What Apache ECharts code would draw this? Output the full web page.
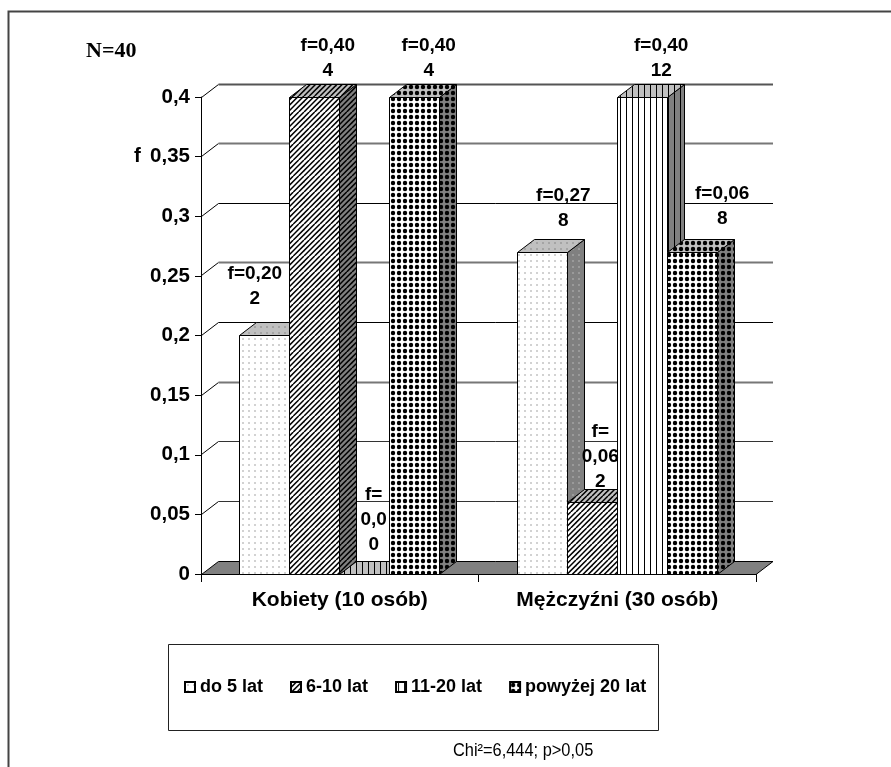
<!DOCTYPE html>
<html><head><meta charset="utf-8">
<style>html,body{margin:0;padding:0;background:#fff}#c{width:891px;height:767px}</style>
<script src="https://cdn.jsdelivr.net/npm/echarts@6/dist/echarts.min.js"></script>
</head><body><div id="c"></div>
<script>
// ---- data ----
var categories = ['Kobiety (10 osób)', 'Mężczyźni (30 osób)'];
var ageGroups = ['do 5 lat', '6-10 lat', '11-20 lat', 'powyżej 20 lat'];
var valuesDo5 = [0.20, 0.27];
var values6to10 = [0.40, 0.06];
var values11to20 = [0, 0.40];
var valuesOver20 = [0.40, 0.27];
var freqDo5 = ['f=0,20', 'f=0,27'];
var freq6to10 = ['f=0,40', 'f=\n0,06'];
var freq11to20 = ['f=\n0,0', 'f=0,40'];
var freqOver20 = ['f=0,40', 'f=0,06'];
var countsDo5 = [2, 8];
var counts6to10 = [4, 2];
var counts11to20 = [0, 12];
var countsOver20 = [4, 8];
var yTicks = [0, 0.05, 0.10, 0.15, 0.20, 0.25, 0.30, 0.35, 0.40];
var yTickLabels = ['0', '0,05', '0,1', '0,15', '0,2', '0,25', '0,3', '0,35', '0,4'];

// ---- layout and style ----
var allValues = [valuesDo5, values6to10, values11to20, valuesOver20];
var allFreq = [freqDo5, freq6to10, freq11to20, freqOver20];
var allCounts = [countsDo5, counts6to10, counts11to20, countsOver20];
var DX = 17, DY = 13, BAR_SHARE = 0.18;
var wallShades = ['#808080', '#333', '#333', '#777', '#000', '#777', '#000', '#777', '#555'];
var wallWidths = [1, 1, 1, 2, 1, 2, 1, 2, 2];
var labelNudge = [
  [[-10, -49], [21, -44]],
  [[13, -38.5], [8, -46]],
  [[9, -54], [19, -38.5]],
  [[14, -38.5], [30, -45.5]]
];

function tile(w, h, bg, draw) {
  var c = document.createElement('canvas');
  c.width = w; c.height = h;
  var g = c.getContext('2d');
  g.fillStyle = bg; g.fillRect(0, 0, w, h);
  draw(g);
  return { image: c, repeat: 'repeat' };
}
function fineDots(col) {
  return function (g) { g.fillStyle = col; g.fillRect(2, 2, 2, 2); };
}
function diag(g) {
  g.strokeStyle = '#000'; g.lineWidth = 1.5;
  for (var k = -16; k < 32; k += 16 / 3) {
    g.beginPath(); g.moveTo(k, 16); g.lineTo(k + 16, 0); g.stroke();
  }
}
function vlines(g) { g.fillStyle = '#000'; g.fillRect(2, 0, 1, 6); }
function bigDots(g) {
  g.fillStyle = '#000';
  g.beginPath(); g.arc(3, 3, 2.2, 0, Math.PI * 2); g.fill();
}
var fills = [
  { front: tile(6, 6, '#fff', fineDots('#d2d2d2')), top: tile(6, 6, '#c0c0c0', fineDots('#a4a4a4')), side: tile(6, 6, '#808080', fineDots('#9a9a9a')) },
  { front: tile(16, 16, '#fff', diag), top: tile(16, 16, '#c0c0c0', diag), side: tile(16, 16, '#808080', diag) },
  { front: tile(6, 6, '#fff', vlines), top: tile(6, 6, '#c0c0c0', vlines), side: tile(6, 6, '#808080', vlines) },
  { front: tile(6, 6, '#fff', bigDots), top: tile(6, 6, '#c0c0c0', bigDots), side: tile(6, 6, '#808080', bigDots) }
];

function snap(v) { return Math.round(v - 0.5) + 0.5; }

function barRenderer(s) {
  return function (params, api) {
    var cat = api.value(0), val = api.value(1);
    var band = api.size([1, 0])[0], w = band * BAR_SHARE;
    var cx = api.coord([cat, 0])[0];
    var x0 = snap(cx - 2 * w + s * w), x1 = snap(cx - 2 * w + (s + 1) * w);
    var yb = snap(api.coord([cat, 0])[1]), yt = snap(api.coord([cat, val])[1]);
    function poly(points, fill) {
      return { type: 'polygon', shape: { points: points },
        style: { fill: fill, stroke: '#000', lineWidth: 1 } };
    }
    var kids = [
      poly([[x1, yb], [x1 + DX, yb - DY], [x1 + DX, yt - DY], [x1, yt]], fills[s].side),
      poly([[x0, yt], [x0 + DX, yt - DY], [x1 + DX, yt - DY], [x1, yt]], fills[s].top)
    ];
    if (val > 0) kids.push(poly([[x0, yt], [x1, yt], [x1, yb], [x0, yb]], fills[s].front));
    return { type: 'group', children: kids };
  };
}

var series = ageGroups.map(function (name, s) {
  return {
    name: name, type: 'custom', z: 3 + s, silent: true,
    encode: { x: 0, y: 1 },
    itemStyle: { color: fills[s].front, borderColor: '#000', borderWidth: 1 },
    renderItem: barRenderer(s),
    data: allValues[s].map(function (v, c) { return [c, v]; })
  };
});

// back wall gridlines and floor
series.unshift({
  name: 'wall', type: 'custom', z: 1, silent: true,
  encode: { x: 0, y: 1 },
  renderItem: function (params, api) {
    var v = api.value(1), i = params.dataIndex, cs = params.coordSys;
    var y = snap(api.coord([0, v])[1]), x0 = cs.x + 0.5, x1 = cs.x + cs.width;
    if (i === 0) {
      return { type: 'polygon', shape: { points: [[x0, y], [x0 + DX, y - DY], [x1 + DX, y - DY], [x1, y]] },
        style: { fill: '#808080', stroke: '#000', lineWidth: 1 } };
    }
    return { type: 'group', children: [
      { type: 'polyline', shape: { points: [[x0, y], [x0 + DX, y - DY]] }, style: { stroke: '#000', lineWidth: 1, fill: null } },
      { type: 'polyline', shape: { points: [[x0 + DX, y - DY], [x1 + DX, y - DY]] }, style: { stroke: wallShades[i], lineWidth: wallWidths[i], fill: null } }
    ] };
  },
  data: yTicks.map(function (v) { return [0, v]; })
});

// value labels
var labelData = [];
allValues.forEach(function (arr, s) { arr.forEach(function (v, c) { labelData.push([c, v, s]); }); });
series.push({
  name: 'labels', type: 'custom', z: 20, silent: true,
  encode: { x: 0, y: 1 },
  renderItem: function (params, api) {
    var c = api.value(0), v = api.value(1), s = api.value(2);
    var band = api.size([1, 0])[0], w = band * BAR_SHARE;
    var p = api.coord([c, v]);
    var n = labelNudge[s][c];
    return { type: 'text', style: {
      text: allFreq[s][c] + '\n' + allCounts[s][c],
      x: p[0] - 2 * w + (s + 0.5) * w + n[0], y: p[1] + n[1],
      align: 'center', verticalAlign: 'middle',
      font: 'bold 19px "Liberation Sans"', lineHeight: 25, fill: '#000' } };
  },
  data: labelData
});

var chart = echarts.init(document.getElementById('c'), null, { renderer: 'canvas' });
chart.setOption({
  animation: false,
  backgroundColor: '#fff',
  textStyle: { fontFamily: 'Liberation Sans' },
  grid: { left: 201, right: 135, top: 97, bottom: 193, containLabel: false },
  xAxis: {
    type: 'category', data: categories, boundaryGap: true,
    axisLine: { show: true, lineStyle: { color: '#000', width: 1 } },
    axisTick: { show: true, length: 8, alignWithLabel: false, lineStyle: { color: '#000' } },
    axisLabel: { margin: 16, color: '#000', fontWeight: 'bold', fontSize: 21, fontFamily: 'Liberation Sans', interval: 0 },
    splitLine: { show: false }
  },
  yAxis: {
    type: 'value', min: 0, max: 0.4, interval: 0.05,
    axisLine: { show: true, lineStyle: { color: '#000', width: 1 } },
    axisTick: { show: true, length: 6, lineStyle: { color: '#000' } },
    axisLabel: { margin: 11, color: '#000', fontWeight: 'bold', fontSize: 20.5, fontFamily: 'Liberation Sans',
      formatter: function (v) { return yTickLabels[Math.round(v / 0.05)]; } },
    splitLine: { show: false }
  },
  legend: {
    data: ageGroups, left: 179, top: 673, orient: 'horizontal', padding: 5,
    itemWidth: 10, itemHeight: 10, itemGap: 27, icon: 'rect',
    textStyle: { color: '#000', fontWeight: 'bold', fontSize: 18, fontFamily: 'Liberation Sans', padding: 0 },
    selectedMode: false
  },
  graphic: [
    { type: 'polyline', silent: true, shape: { points: [[8.5, 767], [8.5, 11.5], [891, 11.5]] }, style: { stroke: '#444', lineWidth: 2, fill: null } },
    { type: 'rect', silent: true, shape: { x: 168.5, y: 644.5, width: 490, height: 86 }, style: { fill: null, stroke: '#222', lineWidth: 1 } },
    { type: 'text', silent: true, x: 86, y: 40, style: { text: 'N=40', font: 'bold 22px "Liberation Serif"', fill: '#000' } },
    { type: 'text', silent: true, x: 134, y: 146, style: { text: 'f', font: 'bold 20.5px "Liberation Sans"', fill: '#000' } },
    { type: 'text', silent: true, x: 453, y: 742, scaleX: 0.91, style: { text: 'Chi²=6,444; p>0,05', font: '18px "Liberation Sans"', fill: '#000' } }
  ],
  series: series
});
</script></body></html>
